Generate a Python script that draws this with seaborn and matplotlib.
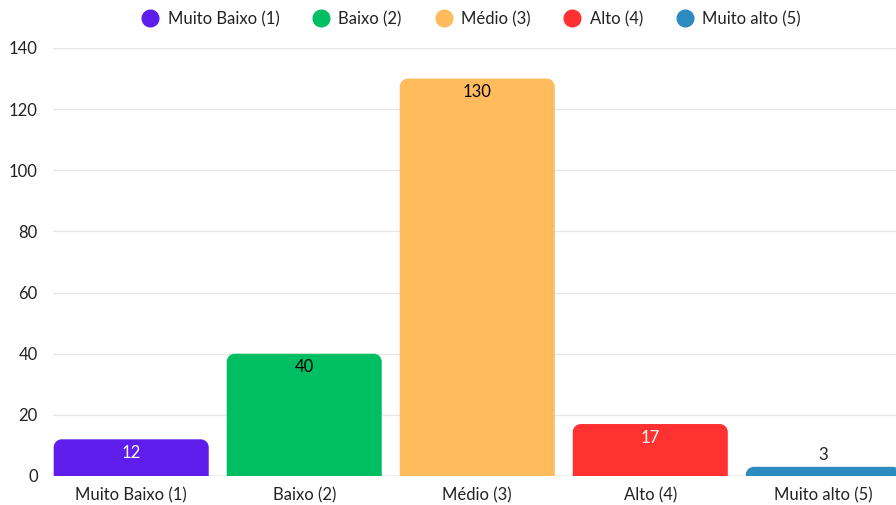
import matplotlib
matplotlib.use("Agg")
import matplotlib.pyplot as plt
import seaborn as sns
import pandas as pd
from matplotlib.path import Path
from matplotlib.patches import PathPatch
from matplotlib.lines import Line2D

categories = ["Muito Baixo (1)", "Baixo (2)", "Médio (3)", "Alto (4)", "Muito alto (5)"]
values = [12, 40, 130, 17, 3]
colors = ["#5E1DEA", "#00BF63", "#FFBB5C", "#FF3131", "#2E8BC0"]
label_colors = ["white", "black", "black", "white", "black"]
yticks = [0, 20, 40, 60, 80, 100, 120, 140]

sns.set_theme(style="white")
plt.rcParams["font.family"] = ["Lato", "DejaVu Sans"]

W, H = 896, 505
fig = plt.figure(figsize=(W / 100, H / 100), dpi=100)
ax_left, ax_right, ax_top, ax_bot = 53, 896, 48, 476
ax = fig.add_axes([ax_left / W, (H - ax_bot) / H, (ax_right - ax_left) / W, (ax_bot - ax_top) / H])

df = pd.DataFrame({"cat": categories, "val": values})
sns.barplot(data=df, x="cat", y="val", hue="cat", palette=colors, width=0.896,
            legend=False, ax=ax, saturation=1)

ax.set_xlim(-0.452, 4.42)
ax.set_ylim(0, 140)
ax.set_yticks(yticks)
ax.set_xlabel("")
ax.set_ylabel("")
for s in ax.spines.values():
    s.set_visible(False)
ax.grid(axis="y", color="#e6e6e6", linewidth=1)
ax.set_axisbelow(True)
ax.axhline(0, color="#cccccc", linewidth=1, zorder=1)
ax.tick_params(axis="both", length=0, labelsize=12, colors="#222222")
ax.tick_params(axis="y", pad=11)
ax.tick_params(axis="x", pad=8)

# rounded tops
px_per_x = (ax_right - ax_left) / (4.42 + 0.452)
px_per_y = (ax_bot - ax_top) / 140
r_px = 8
rx = r_px / px_per_x
for p, c in zip(list(ax.patches), colors):
    x0, y0 = p.get_x(), p.get_y()
    w, h = p.get_width(), p.get_height()
    ry = min(r_px / px_per_y, h)
    k = 0.5523
    verts = [
        (x0, y0), (x0, y0 + h - ry),
        (x0, y0 + h - ry + k * ry), (x0 + rx - k * rx, y0 + h), (x0 + rx, y0 + h),
        (x0 + w - rx, y0 + h),
        (x0 + w - rx + k * rx, y0 + h), (x0 + w, y0 + h - ry + k * ry), (x0 + w, y0 + h - ry),
        (x0 + w, y0), (x0, y0),
    ]
    codes = [Path.MOVETO, Path.LINETO, Path.CURVE4, Path.CURVE4, Path.CURVE4,
             Path.LINETO, Path.CURVE4, Path.CURVE4, Path.CURVE4, Path.LINETO, Path.CLOSEPOLY]
    patch = PathPatch(Path(verts, codes), facecolor=p.get_facecolor(), edgecolor="none", zorder=2)
    p.set_visible(False)
    ax.add_patch(patch)

# value labels
for i, (v, lc) in enumerate(zip(values, label_colors)):
    if v * px_per_y > 25:
        ax.text(i, v - 13.5 / px_per_y, str(v), ha="center", va="center", color=lc, fontsize=12, zorder=3)
    else:
        ax.text(i, v + 12 / px_per_y, str(v), ha="center", va="center", color="#222222", fontsize=12, zorder=3)

handles = [Line2D([0], [0], marker="o", linestyle="", markersize=12, markerfacecolor=c,
                  markeredgecolor=c) for c in colors]
fig.legend(handles, categories, loc="center", bbox_to_anchor=(0.526, 1 - 19 / H), ncol=5,
           frameon=False, fontsize=12, handletextpad=0.55, columnspacing=2.0,
           handlelength=1.0, labelcolor="#222222")

fig.savefig("out.png", dpi=100)
